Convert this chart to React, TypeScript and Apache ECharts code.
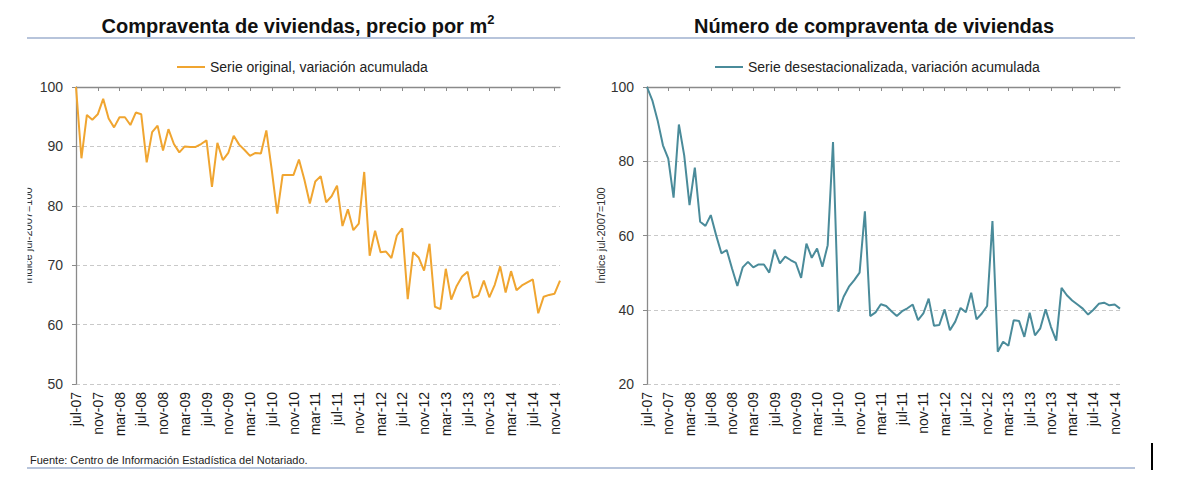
import React, { useEffect, useRef } from "react";
import * as echarts from "echarts";

const FONT = "'Liberation Sans', Arial, sans-serif";

const MONTHS = ["ene", "feb", "mar", "abr", "may", "jun", "jul", "ago", "sep", "oct", "nov", "dic"];
const START_YEAR = 2007;
const START_MONTH = 6; // jul
const N_MONTHS = 90; // jul-07 .. dic-14

const CATEGORIES: string[] = [];
for (let i = 0; i < N_MONTHS; i++) {
  const m = (START_MONTH + i) % 12;
  const y = START_YEAR + Math.floor((START_MONTH + i) / 12);
  CATEGORIES.push(MONTHS[m] + "-" + String(y % 100).padStart(2, "0"));
}

const TITLE_LEFT = "Compraventa de viviendas, precio por m";
const TITLE_RIGHT = "Número de compraventa de viviendas";
const SERIES_LEFT = "Serie original, variación acumulada";
const SERIES_RIGHT = "Serie desestacionalizada, variación acumulada";
const Y_NAME = "Índice jul-2007=100";
const SOURCE = "Fuente: Centro de Información Estadística del Notariado.";

const PRICE = [
  100, 88.0, 95.3, 94.5, 95.4, 98.0, 94.7, 93.2, 94.9, 94.9,
  93.6, 95.7, 95.4, 87.3, 92.4, 93.5, 89.3, 92.9, 90.4, 89.0,
  90.0, 89.9, 89.9, 90.4, 91.0, 83.2, 90.6, 87.7, 88.9, 91.8,
  90.3, 89.4, 88.4, 88.9, 88.8, 92.7, 86.0, 78.7, 85.2, 85.2,
  85.2, 87.8, 84.4, 80.4, 84.1, 85.0, 80.6, 81.6, 83.4, 76.6,
  79.4, 75.9, 77.0, 85.7, 71.6, 75.8, 72.2, 72.3, 71.2, 75.0,
  76.2, 64.3, 72.2, 71.3, 69.1, 73.6, 63.0, 62.6, 69.4, 64.2,
  66.5, 68.1, 68.9, 64.5, 64.9, 67.4, 64.6, 66.7, 69.8, 65.4,
  69.0, 65.8, 66.6, 67.1, 67.6, 61.9, 64.7, 65.0, 65.2, 67.4,
];

const SALES = [
  100, 96.4, 91.0, 84.3, 80.7, 70.2, 89.9, 81.6, 68.2, 78.3,
  63.7, 62.6, 65.5, 60.1, 55.2, 56.1, 51.1, 46.4, 51.4, 52.9,
  51.4, 52.2, 52.2, 50.0, 56.2, 52.5, 54.3, 53.4, 52.6, 48.6,
  57.8, 54.0, 56.5, 51.6, 57.4, 85.2, 39.5, 43.5, 46.2, 48.0,
  50.0, 66.5, 38.3, 39.3, 41.5, 41.0, 39.6, 38.3, 39.6, 40.4,
  41.4, 37.2, 39.0, 43.0, 35.7, 35.9, 40.1, 34.5, 36.8, 40.5,
  39.3, 44.6, 37.4, 39.0, 41.0, 63.9, 28.7, 31.4, 30.3, 37.2,
  37.0, 32.7, 39.2, 33.1, 35.0, 40.1, 35.4, 31.7, 45.9, 43.9,
  42.5, 41.4, 40.3, 38.7, 40.0, 41.6, 41.9, 41.2, 41.4, 40.3,
];

const LEFT_Y = { min: 50, max: 100, interval: 10 };
const RIGHT_Y = { min: 20, max: 100, interval: 20 };

const ORANGE = "#F0A530";
const TEAL = "#4A8B9A";
const AXIS = "#8a8a8a";
const GRID_LINE = "#c9c9c9";
const RULE = "#9fb0cf";

function bottomAxis(gridIndex: number) {
  return {
    gridIndex,
    type: "category",
    data: CATEGORIES,
    boundaryGap: false,
    position: "bottom",
    axisLine: { show: false },
    axisTick: { show: false },
    splitLine: { show: false },
    axisLabel: {
      interval: 3,
      rotate: 90,
      margin: 8,
      fontSize: 14,
      color: "#1a1a1a",
      fontFamily: FONT,
    },
  };
}

function topAxis(gridIndex: number) {
  return {
    gridIndex,
    type: "category",
    data: CATEGORIES,
    boundaryGap: false,
    position: "top",
    axisLine: { show: true, lineStyle: { color: AXIS, width: 1.3 } },
    axisTick: { show: true, inside: true, length: 4, interval: 3, lineStyle: { color: AXIS, width: 1 } },
    axisLabel: { show: false },
    splitLine: { show: false },
  };
}

function valueAxis(gridIndex: number, r: { min: number; max: number; interval: number }, extra: any) {
  return {
    gridIndex,
    type: "value",
    min: r.min,
    max: r.max,
    interval: r.interval,
    axisLine: { show: true, lineStyle: { color: AXIS, width: 1.3 } },
    axisTick: { show: true, length: 4, lineStyle: { color: AXIS, width: 1 } },
    axisLabel: { margin: 13, fontSize: 14, color: "#333", fontFamily: FONT },
    splitLine: { show: true, lineStyle: { color: GRID_LINE, type: [4, 3], width: 1 } },
    ...extra,
  };
}

export default function App() {
  const ref = useRef<HTMLDivElement>(null);

  useEffect(() => {
    if (!ref.current) return;
    const chart = echarts.init(ref.current, undefined, { renderer: "svg" });
    const option: any = {
      animation: false,
      backgroundColor: "#ffffff",
      textStyle: { fontFamily: FONT },
      title: [
        {
          text: "{a|" + TITLE_LEFT + "}{s|2}",
          left: 293,
          top: 8,
          textAlign: "center",
          textStyle: {
            rich: {
              a: { fontSize: 20, fontWeight: "bold", color: "#111", fontFamily: FONT, lineHeight: 26 },
              s: { fontSize: 13, fontWeight: "bold", color: "#111", fontFamily: FONT, verticalAlign: "top", lineHeight: 13 },
            },
          },
        },
        {
          text: TITLE_RIGHT,
          left: 869,
          top: 11,
          textAlign: "center",
          textStyle: { fontSize: 20, fontWeight: "bold", color: "#111", fontFamily: FONT },
        },
      ],
      legend: [
        {
          data: [SERIES_LEFT],
          left: 172,
          top: 55,
          icon: "rect",
          itemWidth: 28,
          itemHeight: 2,
          selectedMode: false,
          textStyle: { fontSize: 14, color: "#222", fontFamily: FONT },
        },
        {
          data: [SERIES_RIGHT],
          left: 710,
          top: 55,
          icon: "rect",
          itemWidth: 28,
          itemHeight: 2,
          selectedMode: false,
          textStyle: { fontSize: 14, color: "#222", fontFamily: FONT },
        },
      ],
      grid: [
        { left: 76, top: 87, width: 484, height: 297 },
        { left: 647, top: 87, width: 473, height: 297 },
      ],
      xAxis: [bottomAxis(0), topAxis(0), bottomAxis(1), topAxis(1)],
      yAxis: [
        valueAxis(0, LEFT_Y, {
          name: Y_NAME,
          nameLocation: "middle",
          nameGap: 43,
          nameTextStyle: { fontSize: 11, color: "#333", fontFamily: FONT },
        }),
        valueAxis(1, RIGHT_Y, {
          name: Y_NAME,
          nameLocation: "middle",
          nameGap: 37,
          nameTextStyle: { fontSize: 11, color: "#333", fontFamily: FONT },
        }),
      ],
      series: [
        {
          name: SERIES_LEFT,
          type: "line",
          xAxisIndex: 0,
          yAxisIndex: 0,
          data: PRICE,
          showSymbol: false,
          color: ORANGE,
          itemStyle: { color: ORANGE },
          lineStyle: { color: ORANGE, width: 2 },
          z: 3,
        },
        {
          name: SERIES_RIGHT,
          type: "line",
          xAxisIndex: 2,
          yAxisIndex: 1,
          data: SALES,
          showSymbol: false,
          color: TEAL,
          itemStyle: { color: TEAL },
          lineStyle: { color: TEAL, width: 2 },
          z: 3,
        },
      ],
      graphic: {
        z: 100,
        elements: [
          { type: "rect", z: 100, shape: { x: 0, y: 140, width: 27.5, height: 220 }, style: { fill: "#ffffff" } },
          { type: "line", z: 50, shape: { x1: 27, y1: 38, x2: 1135, y2: 38 }, style: { stroke: RULE, lineWidth: 1.5 } },
          { type: "line", z: 50, shape: { x1: 27, y1: 468, x2: 1135, y2: 468 }, style: { stroke: RULE, lineWidth: 1.5 } },
          {
            type: "text",
            z: 50,
            x: 30,
            y: 460,
            style: { text: SOURCE, fontSize: 11, fill: "#222", fontFamily: FONT, verticalAlign: "middle" },
          },
          { type: "rect", z: 50, shape: { x: 1151, y: 443, width: 2, height: 27 }, style: { fill: "#000" } },
        ],
      },
    };
    chart.setOption(option);
    return () => chart.dispose();
  }, []);

  return (
    <div
      ref={ref}
      style={{ position: "absolute", left: 0, top: 0, width: 1200, height: 503, background: "#fff" }}
    />
  );
}
